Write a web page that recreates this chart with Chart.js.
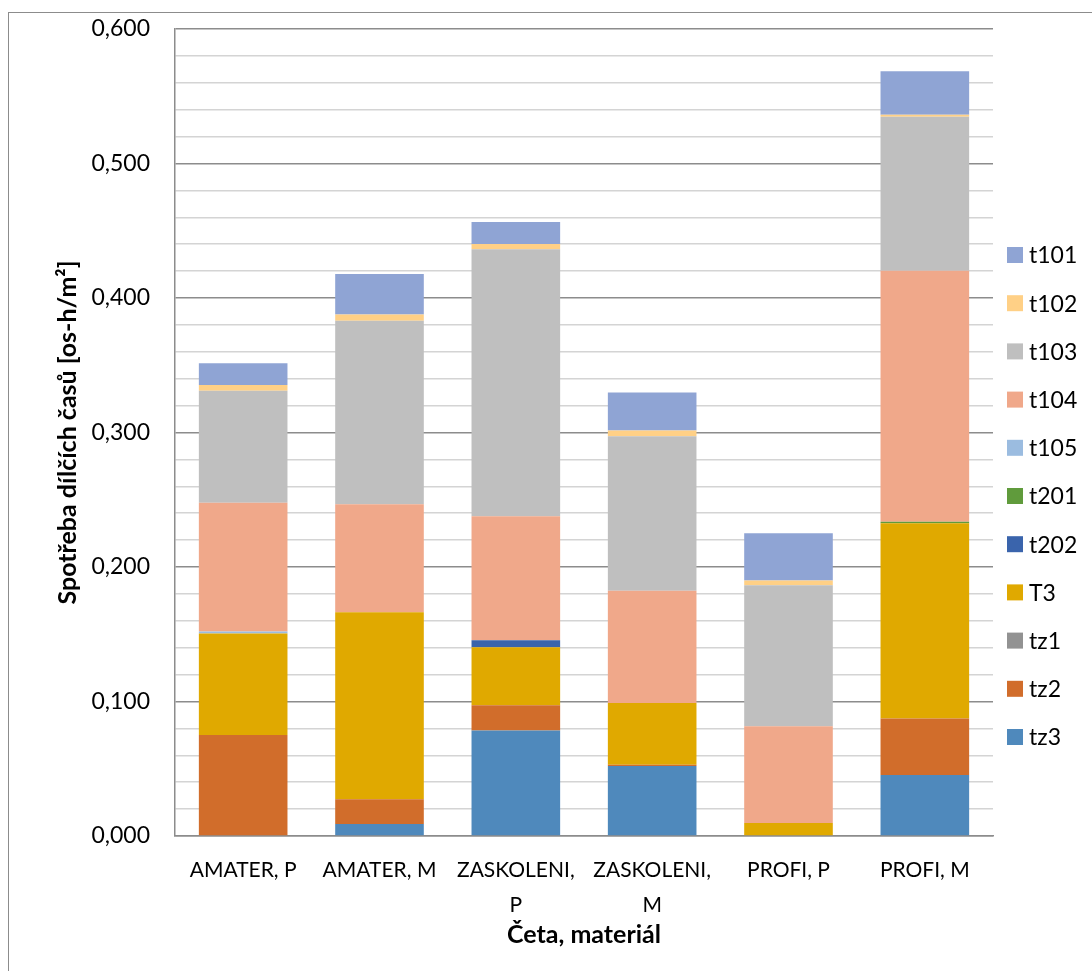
<!DOCTYPE html>
<html lang="cs">
<head>
  <meta charset="UTF-8">
  <title>Spotřeba dílčích časů</title>
  <style>
    body {
      margin: 0;
      background: #fff;
      overflow: hidden;
    }
    #wrap {
      position: relative;
      width: 1092px;
      height: 971px;
    }
    #frame {
      position: absolute;
      left: 8px;
      top: 12px;
      width: 1200px;
      height: 1100px;
      border: 1.5px solid #8c8c8c;
    }
    canvas {
      position: absolute;
      left: 0;
      top: 0;
    }
  </style>
</head>
<body>
  <div id="wrap">
    <div id="frame"></div>
    <canvas id="chart" width="1092" height="971"></canvas>
  </div>

  <script src="https://cdn.jsdelivr.net/npm/chart.js"></script>
  <script>
    const FONT = 'Lato, "Open Sans", sans-serif';

    // kategorie (osa x)
    const CATEGORIES = [
      ['AMATER, P'],
      ['AMATER, M'],
      ['ZASKOLENI,', 'P'],
      ['ZASKOLENI,', 'M'],
      ['PROFI, P'],
      ['PROFI, M']
    ];

    // hodnoty jednotlivých časů [os-h/m2], odspodu nahoru
    const tz3  = [0.0000, 0.0089, 0.0784, 0.0520, 0.0000, 0.0453];
    const tz2  = [0.0751, 0.0184, 0.0189, 0.0009, 0.0000, 0.0420];
    const tz1  = [0.0000, 0.0000, 0.0000, 0.0000, 0.0000, 0.0000];
    const T3   = [0.0755, 0.1390, 0.0431, 0.0459, 0.0097, 0.1453];
    const t202 = [0.0000, 0.0000, 0.0052, 0.0000, 0.0000, 0.0000];
    const t201 = [0.0000, 0.0000, 0.0000, 0.0000, 0.0000, 0.0011];
    const t105 = [0.0015, 0.0000, 0.0000, 0.0000, 0.0000, 0.0000];
    const t104 = [0.0957, 0.0803, 0.0921, 0.0836, 0.0719, 0.1865];
    const t103 = [0.0832, 0.1365, 0.1985, 0.1149, 0.1049, 0.1146];
    const t102 = [0.0043, 0.0047, 0.0039, 0.0042, 0.0034, 0.0015];
    const t101 = [0.0161, 0.0300, 0.0164, 0.0283, 0.0352, 0.0322];

    const SERIES = [
      { label: 'tz3',  data: tz3,  color: '#4F89BC' },
      { label: 'tz2',  data: tz2,  color: '#D16D2B' },
      { label: 'tz1',  data: tz1,  color: '#929292' },
      { label: 'T3',   data: T3,   color: '#E0A900' },
      { label: 't202', data: t202, color: '#3A64AC' },
      { label: 't201', data: t201, color: '#609B3C' },
      { label: 't105', data: t105, color: '#9BBCE0' },
      { label: 't104', data: t104, color: '#F0A88A' },
      { label: 't103', data: t103, color: '#BFBFBF' },
      { label: 't102', data: t102, color: '#FFD086' },
      { label: 't101', data: t101, color: '#8FA4D4' }
    ];

    const Y_MAX = 0.6;
    const Y_STEP = 0.02;

    const isMajor = v => Math.round(v / Y_STEP) % 5 === 0;

    // legenda vpravo, poradi obracene (t101 nahore)
    const sideLegend = {
      id: 'sideLegend',
      afterDraw(chart) {
        const ctx = chart.ctx;
        const items = chart.data.datasets.slice().reverse();
        ctx.save();
        ctx.font = '23px ' + FONT;
        ctx.textBaseline = 'middle';
        ctx.textAlign = 'left';
        items.forEach((ds, i) => {
          const y = 255 + i * 48.2;
          ctx.fillStyle = ds.backgroundColor;
          ctx.fillRect(1007, y - 8, 16, 16);
          ctx.fillStyle = '#000';
          ctx.fillText(ds.label, 1029, y + 1);
        });
        ctx.restore();
      }
    };

    new Chart(document.getElementById('chart'), {
      type: 'bar',
      data: {
        labels: CATEGORIES,
        datasets: SERIES.map(s => ({
          label: s.label,
          data: s.data,
          backgroundColor: s.color,
          borderWidth: 0,
          barPercentage: 0.65,
          categoryPercentage: 1
        }))
      },
      plugins: [sideLegend],
      options: {
        responsive: false,
        animation: false,
        layout: { padding: { left: 10, top: 29, right: 99, bottom: 0 } },
        plugins: {
          legend: { display: false },
          tooltip: { enabled: false }
        },
        scales: {
          x: {
            stacked: true,
            afterFit: s => { s.height = 135; },
            grid: { display: false, drawTicks: false },
            border: { color: '#8c8c8c', width: 1.5 },
            ticks: {
              color: '#000',
              font: { family: FONT, size: 21, lineHeight: 1.65 },
              padding: 17,
              maxRotation: 0,
              minRotation: 0,
              autoSkip: false
            },
            title: {
              display: true,
              text: 'Četa, materiál',
              color: '#000',
              font: { family: FONT, size: 25, weight: 'bold' },
              padding: { top: 0, bottom: 21 }
            }
          },
          y: {
            stacked: true,
            min: 0,
            max: Y_MAX,
            afterFit: s => {
              s.width = 165;
              s.paddingTop = 0;
              s.paddingBottom = 0;
            },
            grid: {
              drawTicks: false,
              color: c => isMajor(c.tick.value) ? '#8c8c8c' : '#d4d4d4',
              lineWidth: 1.5
            },
            border: { color: '#8c8c8c', width: 1.5 },
            ticks: {
              stepSize: Y_STEP,
              color: '#000',
              font: { family: FONT, size: 23 },
              padding: 25,
              autoSkip: false,
              callback: v => isMajor(v) ? v.toFixed(3).replace('.', ',') : ''
            },
            title: {
              display: true,
              text: 'Spotřeba dílčích časů [os-h/m²]',
              color: '#000',
              font: { family: FONT, size: 25, weight: 'bold' },
              padding: { top: 43, bottom: 0 }
            }
          }
        }
      }
    });
  </script>
</body>
</html>
